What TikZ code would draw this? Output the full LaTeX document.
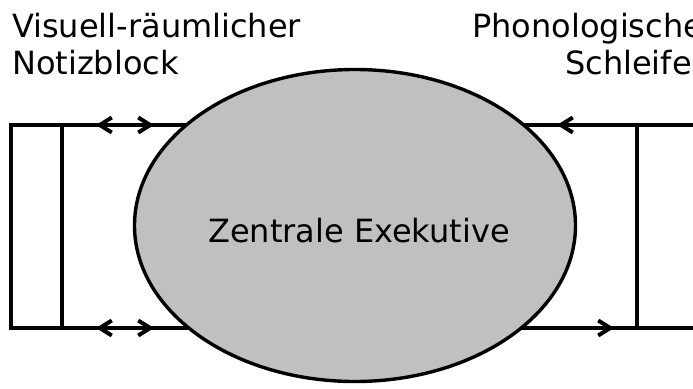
\documentclass[tikz,border=0pt]{standalone}
\usepackage{fontspec}
\setmainfont{DejaVu Sans}
\usetikzlibrary{arrows.meta,shapes.geometric}
\definecolor{ellgray}{RGB}{192,193,191}
\begin{document}
\begin{tikzpicture}[x=1pt,y=-1pt,
  lbl/.style={font=\fontsize{32}{37}\selectfont, inner sep=0pt, anchor=base west},
  conn/.style={line width=3.4pt, line join=miter},
  tip/.style={Straight Barb[length=12pt,width=15pt]},
  arr/.style={line width=4pt, -{Straight Barb[length=12pt,width=15pt]}},
  darr/.style={line width=4pt, {Straight Barb[length=12pt,width=15pt]}-{Straight Barb[length=12pt,width=15pt]}}
]
\useasboundingbox (0,0) rectangle (693,388);
% coordinates
\coordinate (L1t) at (11,125);
\coordinate (L1b) at (11,328);
\coordinate (L2t) at (62,125);
\coordinate (L2b) at (62,328);
\coordinate (R2t) at (637,125);
\coordinate (R2b) at (637,328);
\coordinate (Rt) at (705,125);
\coordinate (Rb) at (705,328);
\coordinate (ltin) at (300,125);
\coordinate (lbin) at (300,328);
\coordinate (rtin) at (420,125);
\coordinate (rbin) at (420,328);
% frame lines
\draw[conn] (ltin) -- (L1t) -- (L1b) -- (lbin);
\draw[conn] (L2t) -- (L2b);
\draw[conn] (Rt) -- (rtin);
\draw[conn] (Rb) -- (rbin);
\draw[conn] (R2t) -- (R2b);
% ellipse
\node[draw, line width=3.4pt, ellipse, fill=ellgray, minimum width=441pt, minimum height=312pt, inner sep=0pt] (ce) at (355,225.5) {};
\node[lbl, anchor=base] (zt) at (359,242) {Zentrale Exekutive};
% arrows
\coordinate (a1s) at (96,125);
\coordinate (a1e) at (154,125);
\coordinate (a2s) at (96,328);
\coordinate (a2e) at (154,328);
\coordinate (a3s) at (618,125);
\coordinate (a3e) at (557,125);
\coordinate (a4s) at (555,328);
\coordinate (a4e) at (614,328);
\draw[darr] (a1s) -- (a1e);
\draw[darr] (a2s) -- (a2e);
\draw[arr] (a3s) -- (a3e);
\draw[arr] (a4s) -- (a4e);
% labels
\node[lbl] (vis) at (12,37) {Visuell-räumlicher};
\node[lbl] (noti) at (12,74) {Notizblock};
\node[lbl] (pho) at (472,37) {Phonologische};
\node[lbl] (sch) at (565,74) {Schleife};
\end{tikzpicture}
\end{document}
